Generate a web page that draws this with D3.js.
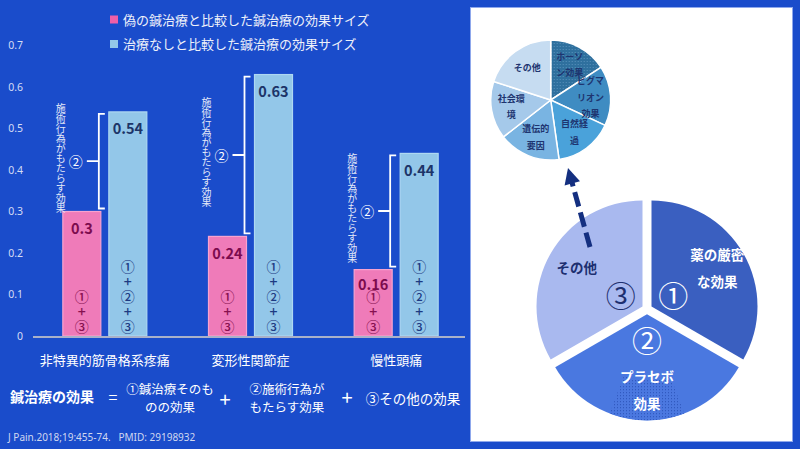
<!DOCTYPE html>
<html><head><meta charset="utf-8">
<script src="https://cdn.jsdelivr.net/npm/d3@7"></script>
<style>body{margin:0;background:#1a4ccb;} text{font-family:"Noto Sans CJK JP","Noto Sans",sans-serif;}</style>
</head><body>
<svg id="c" width="800" height="449"></svg>
<script>
// ---- data ----
const categories = ["非特異的筋骨格系疼痛", "変形性関節症", "慢性頭痛"];
const seriesNames = ["偽の鍼治療と比較した鍼治療の効果サイズ", "治療なしと比較した鍼治療の効果サイズ"];
const shamValues = [0.3, 0.24, 0.16];
const noTreatValues = [0.54, 0.63, 0.44];
const yTicks = [0, 0.1, 0.2, 0.3, 0.4, 0.5, 0.6, 0.7];
const yTickLabels = ["0", "0.1", "0.2", "0.3", "0.4", "0.5", "0.6", "0.7"];
const bracketLabel = "施術行為がもたらす効果";
const shamStack = ["①", "+", "③"];
const noTreatStack = ["①", "+", "②", "+", "③"];
const smallPieLabels = ["ホーソ\nン効果", "ピグマ\nリオン\n効果", "自然経\n過", "遺伝的\n要因", "社会環\n境", "その他"];
const smallPieValues = [57, 58, 57, 60, 56, 72];
const bigPieLabels = ["薬の厳密\nな効果", "プラセボ\n効果", "その他"];
const bigPieNumbers = ["①", "②", "③"];
const bigPieValues = [1, 1, 1];
const citation = "J Pain.2018;19:455-74.   PMID: 29198932";

// ---- drawing ----
const svg = d3.select("#c");
svg.append("rect").attr("width", 800).attr("height", 449).attr("fill", "#1a4ccb");

const defs = svg.append("defs");
function dotPattern(id, bg, dot) {
  const p = defs.append("pattern").attr("id", id).attr("width", 3).attr("height", 3).attr("patternUnits", "userSpaceOnUse");
  p.append("rect").attr("width", 3).attr("height", 3).attr("fill", bg);
  p.append("rect").attr("width", 1).attr("height", 1).attr("fill", dot);
  return `url(#${id})`;
}
const hawPat = dotPattern("haw", "#2f709e", "#5a92bc");
const plaPat = dotPattern("pla", "#4b78e0", "#2a52b8");

const y = d3.scaleLinear().domain([0, 0.7]).range([336, 45.5]);
const x = d3.scaleBand().domain(categories).range([32, 469]);
const barW = 38, gap = 8;

// axis
const ax = svg.append("g").attr("transform", "translate(23,0)")
  .call(d3.axisLeft(y).tickValues(yTicks).tickSize(0).tickPadding(0).tickFormat((d, i) => yTickLabels[i]));
ax.select(".domain").remove();
ax.selectAll("text").attr("fill", "#d5ddf5").attr("font-size", 10.5).style("font-family", "'Noto Sans','DejaVu Sans',sans-serif");

function stackText(g, xp, yBottom, items, fill) {
  const step = 15;
  const cy = yBottom - (items.length - 1) * step / 2;
  g.append("text").attr("x", xp).attr("y", cy + 0.5).attr("text-anchor", "middle").attr("fill", fill)
    .style("writing-mode", "vertical-rl").style("text-orientation", "upright")
    .attr("font-size", 14).attr("letter-spacing", 1).attr("font-weight", 500).text(items.join(""));
}

// bars
categories.forEach((c, i) => {
  const cx = x(c) + x.bandwidth() / 2;
  const g = svg.append("g");
  g.append("rect").attr("x", cx - gap / 2 - barW).attr("y", y(shamValues[i])).attr("width", barW)
    .attr("height", y(0) - y(shamValues[i])).attr("fill", "#ef7bb9").attr("stroke", "#f7a3cf").attr("stroke-width", 1.2);
  g.append("rect").attr("x", cx + gap / 2).attr("y", y(noTreatValues[i])).attr("width", barW)
    .attr("height", y(0) - y(noTreatValues[i])).attr("fill", "#93c7e9").attr("stroke", "#aed8f2").attr("stroke-width", 1.2);
  const pcx = cx - gap / 2 - barW / 2, bcx = cx + gap / 2 + barW / 2;
  g.append("text").attr("x", pcx).attr("y", y(shamValues[i]) + (shamValues[i] < 0.2 ? 14 : 16)).attr("text-anchor", "middle").attr("dominant-baseline", "central")
    .attr("font-size", 14.5).attr("font-weight", "bold").attr("fill", "#7c0b4e").text(shamValues[i]);
  g.append("text").attr("x", bcx).attr("y", y(noTreatValues[i]) + 16).attr("text-anchor", "middle").attr("dominant-baseline", "central")
    .attr("font-size", 14.5).attr("font-weight", "bold").attr("fill", "#1c3468").text(noTreatValues[i]);
  stackText(g, pcx, 327, shamStack, "#86104f");
  stackText(g, bcx, 327, noTreatStack, "#1d3a82");
  // bracket
  const bx = cx - gap / 2 - 2;
  const top = y(noTreatValues[i]) + 2, bot = y(shamValues[i]) - 3, mid = (top + bot) / 2;
  g.append("path").attr("d", `M${bx + 6},${top}H${bx}V${bot}H${bx + 6}M${bx},${mid}H${bx - 12}`)
    .attr("fill", "none").attr("stroke", "#fff").attr("stroke-width", 1.8);
  g.append("text").attr("x", bx - 23).attr("y", mid).attr("text-anchor", "middle").attr("dominant-baseline", "central")
    .attr("font-size", 14).attr("fill", "#fff").text("②");
  g.append("text").attr("x", bx - 38).attr("y", mid - 3).attr("text-anchor", "middle")
    .style("writing-mode", "vertical-rl").style("text-orientation", "upright")
    .attr("font-size", 10).attr("fill", "#e4e9f8").text(bracketLabel);
  svg.append("text").attr("x", cx).attr("y", 359).attr("text-anchor", "middle").attr("dominant-baseline", "central")
    .attr("font-size", 13).attr("fill", "#fff").text(c);
});

// baseline
svg.append("line").attr("x1", 33).attr("x2", 465).attr("y1", y(0) + 1).attr("y2", y(0) + 1).attr("stroke", "#a9b1c9").attr("stroke-width", 2);

// legend
const legColors = ["#ef5fa8", "#93c7e9"];
seriesNames.forEach((s, i) => {
  const ly = 19 + i * 24.5;
  svg.append("rect").attr("x", 110).attr("y", ly - 3.5).attr("width", 8).attr("height", 8).attr("fill", legColors[i]);
  svg.append("text").attr("x", 123).attr("y", ly).attr("dominant-baseline", "central").attr("font-size", 13)
    .attr("fill", "#eef1fa").text(s);
});

// bottom equation
function txt(xp, yp, s, opt = {}) {
  return svg.append("text").attr("x", xp).attr("y", yp).attr("dominant-baseline", "central")
    .attr("text-anchor", opt.anchor || "middle").attr("font-size", opt.size || 13.5)
    .attr("font-weight", opt.weight || "normal").attr("fill", opt.fill || "#fff").text(s);
}
function txt2(xp, y1, lines) {
  lines.forEach((ln, k) => txt(xp, y1 + k * 18.5, ln, {size: 12.5}));
}
txt(10, 396, "鍼治療の効果", {anchor: "start", weight: "bold", size: 14});
txt(113, 396, "=", {size: 16});
txt2(170, 388, ["①鍼治療そのも", "のの効果"]);
txt(225, 398, "+", {size: 20});
txt2(287, 388, ["②施術行為が", "もたらす効果"]);
txt(347, 396, "+", {size: 20});
txt(413, 398, "③その他の効果");
txt(8, 437, citation, {anchor: "start", size: 10, fill: "#d0d8f0"}).style("font-family", "'Noto Sans','DejaVu Sans',sans-serif").style("white-space", "pre");

// right panel
svg.append("rect").attr("x", 470.5).attr("y", 7.5).attr("width", 322).attr("height", 434).attr("fill", "#fff")
  .attr("stroke", "#8fa8ec").attr("stroke-width", 1);

// small pie
const spC = [550.7, 100], spR = 60;
const spColors = [hawPat, "#3f8cc2", "#4aa2da", "#79b4e2", "#a5c9ea", "#c6dcf1"];
const spPie = d3.pie().sort(null).value(d => d)(smallPieValues);
const spArc = d3.arc().innerRadius(0).outerRadius(spR);
const spLab = d3.arc().innerRadius(40).outerRadius(40);
const sp = svg.append("g").attr("transform", `translate(${spC})`);
sp.selectAll("path").data(spPie).join("path").attr("d", spArc).attr("fill", (d, i) => spColors[i])
  .attr("stroke", "#fff").attr("stroke-width", 1.5);
spPie.forEach((d, i) => {
  const [lx, ly] = spLab.centroid(d);
  const lines = smallPieLabels[i].split("\n");
  const t = sp.append("text").attr("text-anchor", "middle").attr("font-size", 9).attr("font-weight", "bold").attr("fill", "#1e3570");
  lines.forEach((ln, k) => {
    t.append("tspan").attr("x", lx).attr("y", ly + (k - (lines.length - 1) / 2) * 16.5 + 3.3).text(ln);
  });
});

// big pie
const bpC = [647, 309], bpR = 106, expl = 5.2;
const bpColors = ["#3a5fc0", "#4a78e0", "#a9b9ef"];
const bpText = ["#fff", "#fff", "#1d2f70"];
const bpPie = d3.pie().sort(null).value(d => d)(bigPieValues);
const bpArc = d3.arc().innerRadius(0).outerRadius(bpR);
const bp = svg.append("g").attr("transform", `translate(${bpC})`);
bpPie.forEach((d, i) => {
  const a = (d.startAngle + d.endAngle) / 2;
  const ox = Math.sin(a) * expl, oy = -Math.cos(a) * expl;
  const g = bp.append("g").attr("transform", `translate(${ox},${oy})`);
  g.append("path").attr("d", bpArc(d)).attr("fill", bpColors[i]);
  if (i === 1) {
    g.append("path").attr("d", d3.arc().innerRadius(66).outerRadius(bpR)({startAngle: a - 0.36, endAngle: a + 0.36}))
      .attr("fill", plaPat);
  }
  const [nx, ny] = d3.arc().innerRadius(25).outerRadius(25).centroid(d);
  g.append("text").attr("x", nx).attr("y", ny).attr("text-anchor", "middle").attr("dominant-baseline", "central")
    .attr("font-size", 30).attr("fill", bpText[i]).text(bigPieNumbers[i]);
  const [lx, ly] = d3.arc().innerRadius(76).outerRadius(76).centroid(d);
  const lines = bigPieLabels[i].split("\n");
  const t = g.append("text").attr("text-anchor", "middle").attr("font-size", 13.5).attr("font-weight", "bold").attr("fill", bpText[i]);
  lines.forEach((ln, k) => {
    t.append("tspan").attr("x", lx).attr("y", ly + (k - (lines.length - 1) / 2) * 27 + 5).text(ln);
  });
});

// dashed arrow from "その他" slice to the small pie
const arrowFrom = [590, 247], arrowTip = [568, 168];
const ang = Math.atan2(arrowTip[1] - arrowFrom[1], arrowTip[0] - arrowFrom[0]);
const headL = 16, headW = 8;
const base = [arrowTip[0] - Math.cos(ang) * headL, arrowTip[1] - Math.sin(ang) * headL];
svg.append("line").attr("x1", arrowFrom[0]).attr("y1", arrowFrom[1]).attr("x2", base[0] + Math.cos(ang) * 2).attr("y2", base[1] + Math.sin(ang) * 2)
  .attr("stroke", "#142f80").attr("stroke-width", 5).attr("stroke-dasharray", "15,6");
const px = -Math.sin(ang), py = Math.cos(ang);
svg.append("path").attr("d", `M${arrowTip}L${base[0] + px * headW},${base[1] + py * headW}L${base[0] - px * headW},${base[1] - py * headW}Z`)
  .attr("fill", "#142f80");
</script>
</body></html>
